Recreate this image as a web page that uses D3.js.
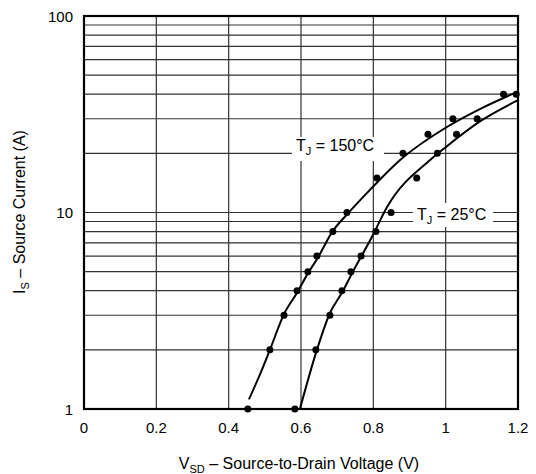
<!DOCTYPE html>
<html>
<head>
<meta charset="utf-8">
<script src="https://cdn.jsdelivr.net/npm/d3@7"></script>
<style>
  body { margin: 0; background: #fff; }
  svg { font-family: "Liberation Sans", Arial, sans-serif; }
</style>
</head>
<body>
<svg id="chart" width="536" height="474"></svg>
<script>
// measured points, Tj = 150C
const hotV = [0.453, 0.514, 0.553, 0.589, 0.619, 0.644, 0.688, 0.727, 0.81, 0.882, 0.951, 1.02, 1.16];
const hotI = [1, 2, 3, 4, 5, 6, 8, 10, 15, 20, 25, 30, 40];
// measured points, Tj = 25C
const coldV = [0.583, 0.641, 0.68, 0.713, 0.738, 0.766, 0.807, 0.849, 0.92, 0.977, 1.03, 1.087, 1.195];
const coldI = [1, 2, 3, 4, 5, 6, 8, 10, 15, 20, 25, 30, 40];
// fitted curves
const hotFitV = [0.456, 0.486, 0.514, 0.553, 0.589, 0.619, 0.647, 0.685, 0.73, 0.79, 0.874, 1.0, 1.1, 1.19];
const hotFitI = [1.12, 1.49, 2, 3.04, 3.9, 4.9, 5.9, 7.9, 9.9, 13, 18.5, 27, 34, 40.5];
const coldFitV = [0.597, 0.644, 0.68, 0.713, 0.741, 0.796, 0.838, 0.957, 1.0, 1.1, 1.2];
const coldFitI = [1, 2, 3.08, 3.9, 4.9, 7.5, 10.66, 18.5, 21.5, 29.5, 37.3];

const xTicks = [0, 0.2, 0.4, 0.6, 0.8, 1, 1.2];
const yTicks = [1, 10, 100];

const margin = {left: 84, top: 16, right: 18, bottom: 65};
const width = 536, height = 474;
const svg = d3.select("#chart");

let x = d3.scaleLinear().domain([0, 1.2]).range([margin.left, width - margin.right]);
let y = d3.scaleLog().domain([1, 100]).range([height - margin.bottom, margin.top]);

// grid
let minor = [];
for (let d = 1; d < 100; d *= 10) {
    for (let k = 2; k <= 9; k++) minor.push(d * k);
}
minor.push(10);
svg.append("g").selectAll("line").data(minor).enter().append("line")
    .attr("x1", x(0)).attr("x2", x(1.2))
    .attr("y1", d => y(d)).attr("y2", d => y(d))
    .attr("stroke", "#333").attr("stroke-width", 1.2);
svg.append("g").selectAll("line").data(xTicks.slice(1, -1)).enter().append("line")
    .attr("x1", d => x(d)).attr("x2", d => x(d))
    .attr("y1", y(1)).attr("y2", y(100))
    .attr("stroke", "#333").attr("stroke-width", 1.2);

// label backgrounds
svg.append("rect").attr("x", 292).attr("y", 137).attr("width", 92).attr("height", 24).attr("fill", "#fff");
svg.append("rect").attr("x", 413).attr("y", 203).attr("width", 80).attr("height", 24).attr("fill", "#fff");

// curves
const line = d3.line().x(d => x(d[0])).y(d => y(d[1])).curve(d3.curveMonotoneX);
const hotFit = hotFitV.map((v, i) => [v, hotFitI[i]]);
const coldFit = coldFitV.map((v, i) => [v, coldFitI[i]]);
[hotFit, coldFit].forEach(data => {
    svg.append("path").datum(data).attr("d", line)
        .attr("fill", "none").attr("stroke", "#000").attr("stroke-width", 2);
});

// points
const pts = hotV.map((v, i) => [v, hotI[i]]).concat(coldV.map((v, i) => [v, coldI[i]]));
svg.append("g").selectAll("circle").data(pts).enter().append("circle")
    .attr("cx", d => x(d[0])).attr("cy", d => y(d[1])).attr("r", 3.5).attr("fill", "#000");

// frame
svg.append("rect")
    .attr("x", x(0)).attr("y", y(100))
    .attr("width", x(1.2) - x(0)).attr("height", y(1) - y(100))
    .attr("fill", "none").attr("stroke", "#000").attr("stroke-width", 2.2);

// tick labels
svg.append("g").selectAll("text").data(xTicks).enter().append("text")
    .attr("x", d => x(d)).attr("y", 433)
    .attr("text-anchor", "middle").attr("font-size", 15)
    .text(d => d);
svg.append("g").selectAll("text").data(yTicks).enter().append("text")
    .attr("x", 73).attr("y", d => y(d) + 5.5)
    .attr("text-anchor", "end").attr("font-size", 15)
    .text(d => d);

// annotations
function subLabel(sel, main, sub, rest) {
    sel.append("tspan").text(main);
    sel.append("tspan").attr("dy", 4).attr("font-size", 11).text(sub);
    sel.append("tspan").attr("dy", -4).text(rest);
}
subLabel(svg.append("text").attr("x", 296).attr("y", 151).attr("font-size", 16), "T", "J", " = 150°C");
subLabel(svg.append("text").attr("x", 417).attr("y", 220).attr("font-size", 16), "T", "J", " = 25°C");

// axis titles
subLabel(svg.append("text").attr("x", 299).attr("y", 469)
    .attr("text-anchor", "middle").attr("font-size", 16), "V", "SD", " – Source-to-Drain Voltage (V)");
subLabel(svg.append("text").attr("transform", "translate(25,212) rotate(-90)")
    .attr("text-anchor", "middle").attr("font-size", 16), "I", "S", " – Source Current (A)");
</script>
</body>
</html>
